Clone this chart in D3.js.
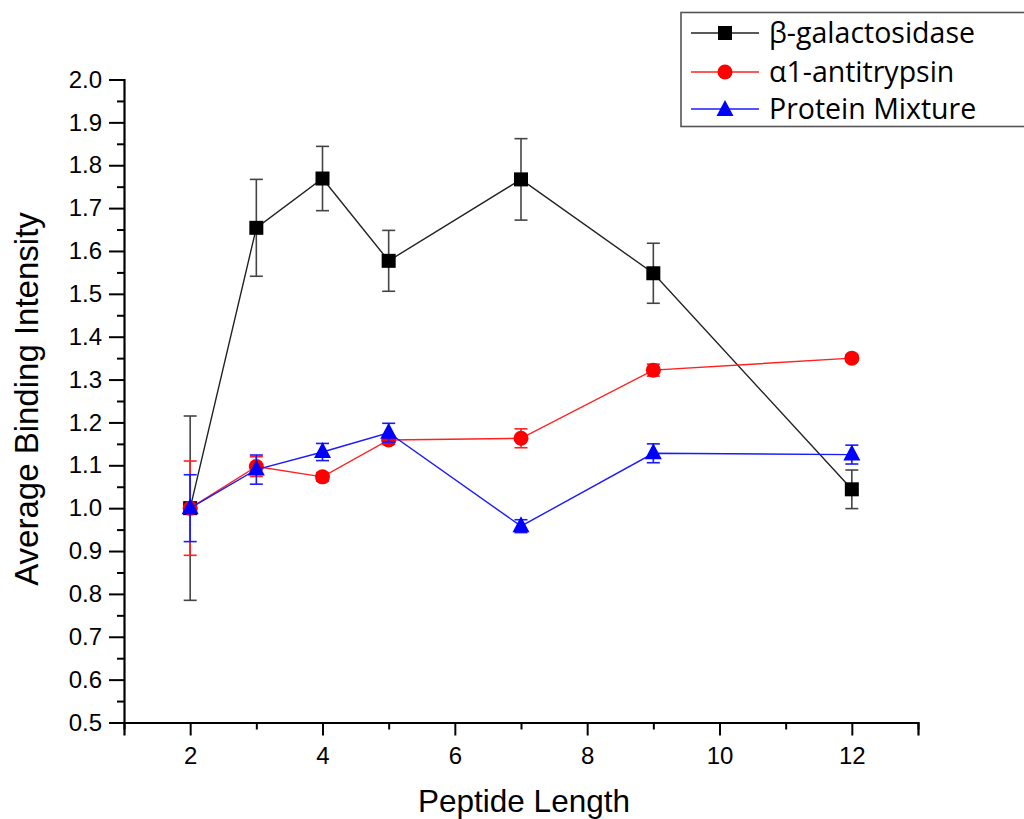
<!DOCTYPE html>
<html>
<head>
<meta charset="utf-8">
<script src="https://cdn.jsdelivr.net/npm/d3@7"></script>
<style>
  html, body { margin: 0; padding: 0; background: #fff; }
  svg { display: block; }
</style>
</head>
<body>
<svg id="chart" width="1024" height="819"></svg>
<script>
// Peptide lengths (x) and per-series mean binding intensities with error (±)
const lengths = [2, 3, 4, 5, 7, 9, 12];

const galMean = [1.000, 1.654, 1.769, 1.577, 1.767, 1.548, 1.044];
const galErr  = [0.215, 0.113, 0.075, 0.071, 0.095, 0.070, 0.045];

const ataMean = [1.000, 1.097, 1.073, 1.159, 1.163, 1.322, 1.350];
const ataErr  = [0.110, 0.023, 0.010, 0.010, 0.022, 0.014, 0.008];

const mixMean = [1.000, 1.090, 1.131, 1.176, 0.958, 1.128, 1.125];
const mixErr  = [0.078, 0.034, 0.020, 0.022, 0.015, 0.022, 0.022];

const seriesNames = ["β-galactosidase", "α1-antitrypsin", "Protein Mixture"];

const xMajorTicks = [2, 4, 6, 8, 10, 12];
const xMinorTicks = [1, 3, 5, 7, 9, 11, 13];
const yMajorTicks = [0.5, 0.6, 0.7, 0.8, 0.9, 1.0, 1.1, 1.2, 1.3, 1.4, 1.5, 1.6, 1.7, 1.8, 1.9, 2.0];
const yMinorTicks = [0.55, 0.65, 0.75, 0.85, 0.95, 1.05, 1.15, 1.25, 1.35, 1.45, 1.55, 1.65, 1.75, 1.85, 1.95];

const svg = d3.select("#chart");
const AXIS_FONT = "'Liberation Sans', Arial, sans-serif";
const LEGEND_FONT = "'Open Sans', 'Noto Sans', sans-serif";

const x = d3.scaleLinear().domain([1, 13]).range([124, 918]);
const y = d3.scaleLinear().domain([0.5, 2.0]).range([722.5, 79.5]);

const series = [
  { name: seriesNames[0], mean: galMean, err: galErr, color: "#000", line: "#222", bar: "#444", shape: "square" },
  { name: seriesNames[1], mean: ataMean, err: ataErr, color: "#ff0000", line: "#ff2020", bar: "#ff2020", shape: "circle" },
  { name: seriesNames[2], mean: mixMean, err: mixErr, color: "#0000ff", line: "#1a1aff", bar: "#1a1aff", shape: "triangle" }
];

// ---- axes ----
const axisG = svg.append("g");

const yAxis = axisG.append("g")
  .attr("transform", `translate(${x(1)},0)`)
  .call(d3.axisLeft(y).tickValues(yMajorTicks).tickFormat(d3.format(".1f")).tickSize(15).tickPadding(7));
yAxis.append("g")
  .call(d3.axisLeft(y).tickValues(yMinorTicks).tickFormat("").tickSize(7))
  .select(".domain").remove();

const xAxis = axisG.append("g")
  .attr("transform", `translate(0,${y(0.5)})`)
  .call(d3.axisBottom(x).tickValues(xMajorTicks).tickFormat(d3.format("d")).tickSize(13).tickPadding(11));
xAxis.append("g")
  .call(d3.axisBottom(x).tickValues(xMinorTicks).tickFormat("").tickSize(7))
  .select(".domain").remove();

axisG.selectAll(".domain").attr("stroke", "#000").attr("stroke-width", 2.2);
axisG.selectAll(".tick line").attr("stroke", "#000").attr("stroke-width", 2);
axisG.selectAll(".tick text")
  .attr("fill", "#000")
  .style("font-family", AXIS_FONT)
  .style("font-size", "24px");

// axis titles
svg.append("text")
  .attr("x", 524).attr("y", 812)
  .attr("text-anchor", "middle")
  .style("font-family", AXIS_FONT)
  .style("font-size", "31.5px")
  .text("Peptide Length");

svg.append("text")
  .attr("transform", "translate(38,399) rotate(-90)")
  .attr("text-anchor", "middle")
  .style("font-family", AXIS_FONT)
  .style("font-size", "33px")
  .text("Average Binding Intensity");

// ---- markers ----
function drawMarker(g, shape, color, cx, cy) {
  if (shape === "square") {
    g.append("rect").attr("x", cx - 7).attr("y", cy - 7).attr("width", 14).attr("height", 14).attr("fill", color);
  } else if (shape === "circle") {
    g.append("circle").attr("cx", cx).attr("cy", cy).attr("r", 7.5).attr("fill", color);
  } else {
    g.append("path")
      .attr("d", `M${cx},${cy - 10}L${cx + 8.5},${cy + 6}L${cx - 8.5},${cy + 6}Z`)
      .attr("fill", color);
  }
}

const line = d3.line().x(d => x(d.x)).y(d => y(d.y));

series.forEach(s => {
  const pts = lengths.map((L, i) => ({ x: L, y: s.mean[i], e: s.err[i] }));
  const g = svg.append("g");

  g.append("path")
    .datum(pts)
    .attr("d", line)
    .attr("fill", "none")
    .attr("stroke", s.line)
    .attr("stroke-width", 1.4);

  // error bars
  const eb = g.append("g").attr("stroke", s.bar).attr("stroke-width", 1.6);
  pts.forEach(p => {
    const cx = x(p.x), y1 = y(p.y + p.e), y0 = y(p.y - p.e);
    eb.append("line").attr("x1", cx).attr("x2", cx).attr("y1", y1).attr("y2", y0);
    eb.append("line").attr("x1", cx - 6.5).attr("x2", cx + 6.5).attr("y1", y1).attr("y2", y1);
    eb.append("line").attr("x1", cx - 6.5).attr("x2", cx + 6.5).attr("y1", y0).attr("y2", y0);
  });

  pts.forEach(p => drawMarker(g, s.shape, s.color, x(p.x), y(p.y)));
});

// ---- legend ----
const lg = svg.append("g");
lg.append("rect")
  .attr("x", 681).attr("y", 12.5).attr("width", 360).attr("height", 114)
  .attr("fill", "#fff").attr("stroke", "#555").attr("stroke-width", 1.6);

const rowY = [33, 72, 109];
series.forEach((s, i) => {
  const ry = rowY[i];
  lg.append("line")
    .attr("x1", 691).attr("x2", 759).attr("y1", ry).attr("y2", ry)
    .attr("stroke", s.line).attr("stroke-width", 1.4);
  drawMarker(lg, s.shape, s.color, 725, ry + (s.shape === "triangle" ? 1 : 0));
  lg.append("text")
    .attr("x", 769).attr("y", ry + 10)
    .style("font-family", LEGEND_FONT)
    .style("font-size", "28.5px")
    .attr("fill", "#000")
    .text(s.name);
});
</script>
</body>
</html>
